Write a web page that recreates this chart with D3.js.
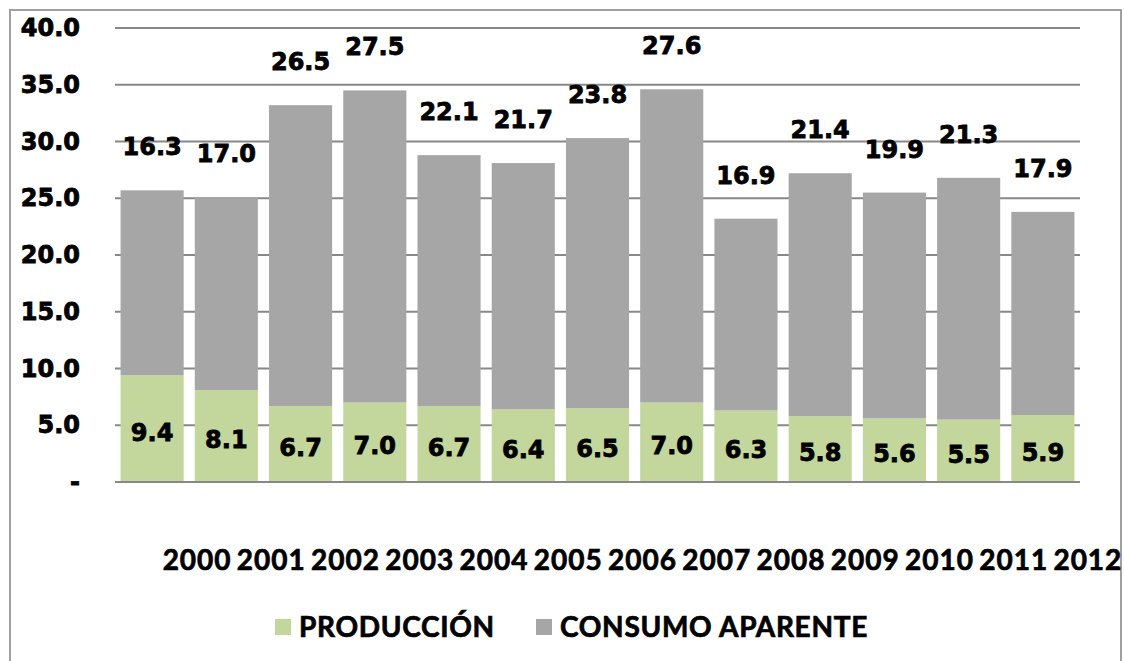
<!DOCTYPE html>
<html>
<head>
<meta charset="utf-8">
<script src="https://cdn.jsdelivr.net/npm/d3@7"></script>
<style>
  body { margin: 0; background: #fff; }
  svg { display: block; }
</style>
</head>
<body>
<div id="chart"></div>
<script>
// data
const years = ["2000","2001","2002","2003","2004","2005","2006","2007","2008","2009","2010","2011","2012"];
const produccion = [9.4, 8.1, 6.7, 7.0, 6.7, 6.4, 6.5, 7.0, 6.3, 5.8, 5.6, 5.5, 5.9];
const consumo = [16.3, 17.0, 26.5, 27.5, 22.1, 21.7, 23.8, 27.6, 16.9, 21.4, 19.9, 21.3, 17.9];
const yTicks = [0, 5, 10, 15, 20, 25, 30, 35, 40];
const seriesNames = ["PRODUCCIÓN", "CONSUMO APARENTE"];
const seriesColors = ["#c3d69b", "#a6a6a6"];

const width = 1124, height = 661;
const margin = {top: 28, left: 115, right: 44, bottom: 179};

const svg = d3.select("#chart").append("svg")
  .attr("width", width)
  .attr("height", height);

// outer frame
svg.append("rect")
  .attr("x", 10).attr("y", 10)
  .attr("width", 1111).attr("height", 670)
  .attr("fill", "none")
  .attr("stroke", "#a0a0a0")
  .attr("stroke-width", 2);

const x = d3.scaleBand()
  .domain(years)
  .range([margin.left, width - margin.right])
  .paddingInner(0.15)
  .paddingOuter(0.075);

const y = d3.scaleLinear()
  .domain([0, 40])
  .range([height - margin.bottom, margin.top]);

// gridlines
svg.append("g")
  .selectAll("line")
  .data(yTicks.filter(d => d > 0))
  .join("line")
  .attr("x1", margin.left)
  .attr("x2", width - margin.right)
  .attr("y1", d => y(d))
  .attr("y2", d => y(d))
  .attr("stroke", "#888")
  .attr("stroke-width", 2);

// bold look of the original (heavier than plain bold)
const heavy = (sel, w) => sel
  .attr("font-weight", "bold")
  .attr("fill", "#000")
  .attr("stroke", "#000")
  .attr("stroke-width", w);

// y axis labels
const yAxis = d3.axisLeft(y)
  .tickValues(yTicks)
  .tickSize(0)
  .tickPadding(0)
  .tickFormat(d => d === 0 ? "-" : d3.format(".1f")(d));

svg.append("g")
  .attr("transform", `translate(80,0)`)
  .call(yAxis)
  .call(g => g.select(".domain").remove())
  .selectAll("text")
  .attr("font-family", "DejaVu Sans")
  .attr("font-size", 24)
  .call(heavy, 0.8);

// stacked bars
const rows = years.map((yr, i) => ({year: yr, p: produccion[i], c: consumo[i]}));
const stack = d3.stack().keys(["p", "c"])(rows);

svg.append("g")
  .selectAll("g")
  .data(stack)
  .join("g")
  .attr("fill", (d, i) => seriesColors[i])
  .selectAll("rect")
  .data(d => d)
  .join("rect")
  .attr("x", d => x(d.data.year))
  .attr("width", x.bandwidth())
  .attr("y", d => y(d[1]))
  .attr("height", d => y(d[0]) - y(d[1]));

// baseline
svg.append("line")
  .attr("x1", margin.left)
  .attr("x2", width - margin.right)
  .attr("y1", y(0)).attr("y2", y(0))
  .attr("stroke", "#888")
  .attr("stroke-width", 2);

// value labels
const labelFont = g => g
  .attr("font-family", "DejaVu Sans")
  .attr("font-size", 24)
  .attr("text-anchor", "middle")
  .call(heavy, 0.8);

svg.append("g")
  .selectAll("text")
  .data(stack[0])
  .join("text")
  .call(labelFont)
  .attr("x", d => x(d.data.year) + x.bandwidth() / 2)
  .attr("y", d => y((d[0] + d[1]) / 2) + 12)
  .text(d => d3.format(".1f")(d.data.p));

svg.append("g")
  .selectAll("text")
  .data(stack[1])
  .join("text")
  .call(labelFont)
  .attr("x", d => x(d.data.year) + x.bandwidth() / 2)
  .attr("y", d => y(d[1]) - 35)
  .text(d => d3.format(".1f")(d.data.c));

// year labels (shifted right, as in the original)
svg.append("g")
  .selectAll("text")
  .data(years)
  .join("text")
  .attr("x", d => x(d) + x.bandwidth() / 2 + 45)
  .attr("y", 570)
  .attr("text-anchor", "middle")
  .attr("font-family", "Lato")
  .attr("font-size", 28)
  .attr("letter-spacing", 1)
  .call(heavy, 0.7)
  .text(d => d);

// legend
const legend = svg.append("g").attr("transform", "translate(275,619)");
const legendX = [0, 261];
seriesNames.forEach((name, i) => {
  const item = legend.append("g").attr("transform", `translate(${legendX[i]},0)`);
  item.append("rect")
    .attr("width", 16).attr("height", 16)
    .attr("fill", seriesColors[i]);
  item.append("text")
    .attr("x", 24)
    .attr("y", 18)
    .attr("font-family", "Lato")
    .attr("font-size", 28)
    .attr("letter-spacing", 0.7)
    .call(heavy, 0.7)
    .text(name);
});
</script>
</body>
</html>
